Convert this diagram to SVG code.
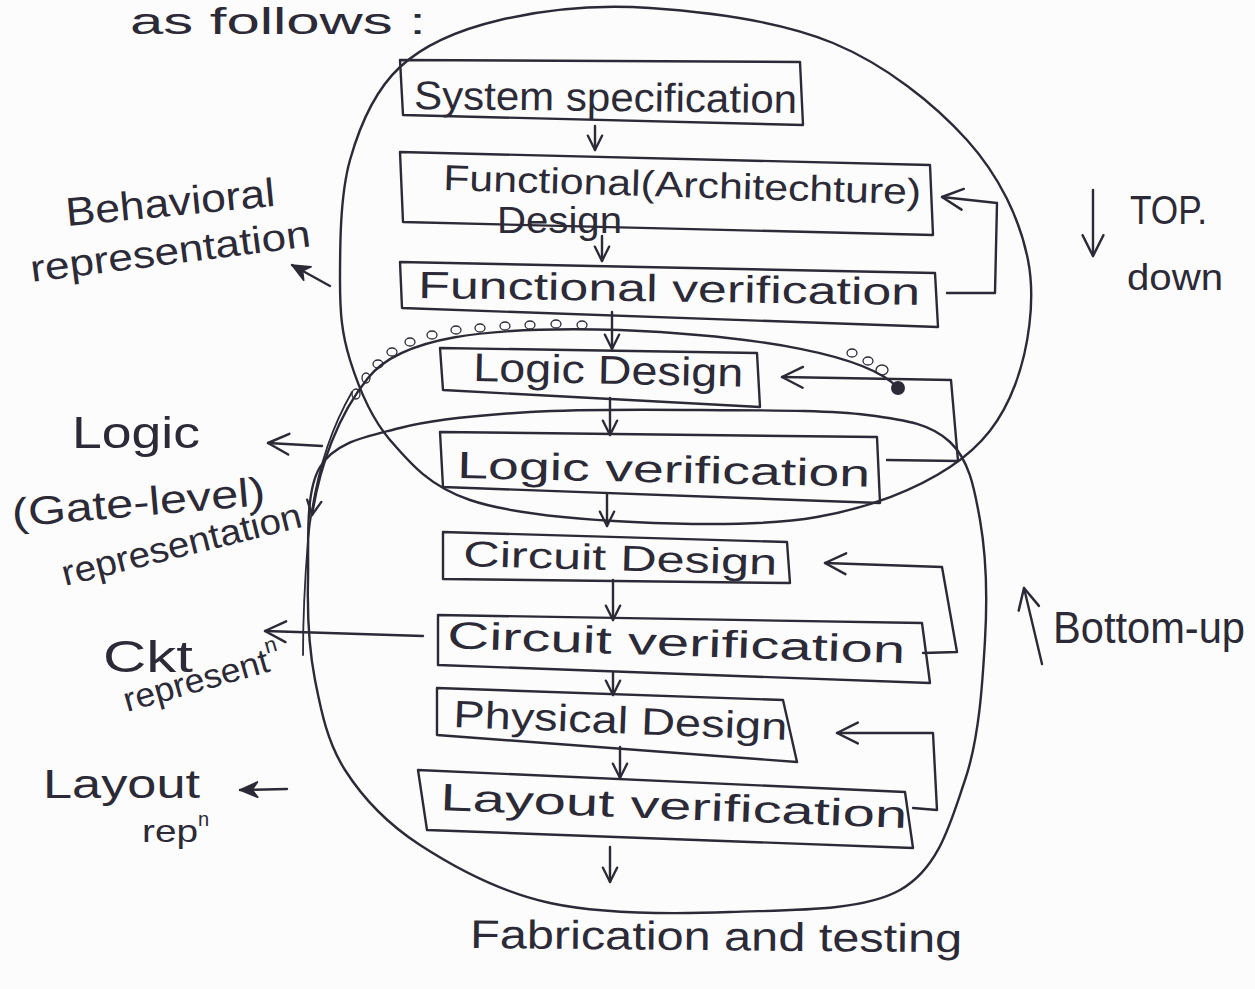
<svg xmlns="http://www.w3.org/2000/svg" width="1255" height="989" viewBox="0 0 1255 989">
<defs>
<style>
.ink{fill:none;stroke:#2b2a36;stroke-width:2.4;stroke-linecap:round;stroke-linejoin:round}
.box{fill:none;stroke:#2b2a36;stroke-width:2.4;stroke-linejoin:round}
.thin{fill:none;stroke:#2b2a36;stroke-width:1.8;stroke-linecap:round}
.t{font-family:"Liberation Sans","DejaVu Sans",sans-serif;fill:#2b2a36}
.loop{fill:none;stroke:#2b2a36;stroke-width:1.3}
</style>
<marker id="ah" viewBox="0 0 20 20" refX="18" refY="10" markerWidth="26" markerHeight="26" markerUnits="userSpaceOnUse" orient="auto"><path d="M2,2 L18,10 L2,18" fill="none" stroke="#2b2a36" stroke-width="1.9" stroke-linecap="round" stroke-linejoin="round"/></marker>
<marker id="ahs" viewBox="0 0 20 20" refX="18" refY="10" markerWidth="18" markerHeight="18" markerUnits="userSpaceOnUse" orient="auto"><path d="M2,2 L18,10 L2,18" fill="none" stroke="#2b2a36" stroke-width="2.6" stroke-linecap="round" stroke-linejoin="round"/></marker>
<marker id="ahf" viewBox="0 0 20 20" refX="18" refY="10" markerWidth="22" markerHeight="22" markerUnits="userSpaceOnUse" orient="auto"><path d="M2,3 L18,10 L2,17 L7,10 Z" fill="#2b2a36" stroke="#2b2a36" stroke-width="1.5" stroke-linejoin="round"/></marker>
</defs>
<rect x="0" y="0" width="1255" height="989" fill="#fcfcfc"/>

<g id="ellipses">
<path class="ink" d="M340,280 C340,246.7 340,195.5 350,160 C360,124.5 375,90.3 400,67 C425,43.7 458.3,29.8 500,20 C541.7,10.2 594.5,4.2 650,8 C705.5,11.8 780.2,21 833,43 C885.8,65 934.5,103.8 967,140 C999.5,176.2 1020,219.2 1028,260 C1036,300.8 1028,350.5 1015,385 C1002,419.5 983,445 950,467 C917,489 869.8,507.8 817,517 C764.2,526.2 690.8,524.8 633,522 C575.2,519.2 510.5,513.7 470,500 C429.5,486.3 410,463.3 390,440 C370,416.7 358.3,386.7 350,360 C341.7,333.3 340,313.3 340,280 Z"/>
<path class="ink" d="M308,580 C308.8,544.5 304.7,492.3 320,467 C335.3,441.7 365,437.2 400,428 C435,418.8 480,415 530,412 C580,409 643.8,409.5 700,410 C756.2,410.5 825.3,409.7 867,415 C908.7,420.3 931.2,424.5 950,442 C968.8,459.5 974.2,487 980,520 C985.8,553 987.5,596.7 985,640 C982.5,683.3 979.2,738.3 965,780 C950.8,821.7 939.2,868 900,890 C860.8,912 788.3,909.8 730,912 C671.7,914.2 601.7,914.2 550,903 C498.3,891.8 454.2,867.2 420,845 C385.8,822.8 362.5,797.5 345,770 C327.5,742.5 321.2,711.7 315,680 C308.8,648.3 307.2,615.5 308,580 Z"/>
</g>

<g id="n1"><polygon class="box" points="400,60 800,62 803,125 403,115"/><text class="t" x="414" y="109" font-size="40" textLength="383" lengthAdjust="spacingAndGlyphs" transform="rotate(0.6 414 109)">System specification</text></g>
<g id="n2"><polygon class="box" points="400,152 930,165 933,235 403,222"/><text class="t" x="443" y="190" font-size="36" textLength="478" lengthAdjust="spacingAndGlyphs" transform="rotate(1.7 443 190)">Functional(Architechture)</text><text class="t" x="497" y="233" font-size="36" textLength="125" lengthAdjust="spacingAndGlyphs">Design</text></g>
<g id="n3"><polygon class="box" points="400,262 935,273 938,327 402,308"/><text class="t" x="418" y="298" font-size="38" textLength="502" lengthAdjust="spacingAndGlyphs" transform="rotate(0.8 418 298)">Functional verification</text></g>
<g id="n4"><polygon class="box" points="440,348 757,353 760,407 443,390"/><text class="t" x="473" y="381" font-size="40" textLength="270" lengthAdjust="spacingAndGlyphs" transform="rotate(1.2 473 381)">Logic Design</text></g>
<g id="n5"><polygon class="box" points="440,432 877,437 880,503 443,487"/><text class="t" x="457" y="478" font-size="38" textLength="413" lengthAdjust="spacingAndGlyphs" transform="rotate(1.2 457 478)">Logic verification</text></g>
<g id="n6"><polygon class="box" points="443,532 787,542 790,583 443,579"/><text class="t" x="463" y="566" font-size="36" textLength="314" lengthAdjust="spacingAndGlyphs" transform="rotate(1.6 463 566)">Circuit Design</text></g>
<g id="n7"><polygon class="box" points="438,615 922,623 930,683 438,665"/><text class="t" x="447" y="648" font-size="38" textLength="458" lengthAdjust="spacingAndGlyphs" transform="rotate(1.9 447 648)">Circuit verification</text></g>
<g id="n8"><polygon class="box" points="437,688 783,700 797,762 437,735"/><text class="t" x="453" y="727" font-size="38" textLength="334" lengthAdjust="spacingAndGlyphs" transform="rotate(2.2 453 727)">Physical Design</text></g>
<g id="n9"><polygon class="box" points="418,770 905,792 913,848 427,830"/><text class="t" x="440" y="810" font-size="38" textLength="467" lengthAdjust="spacingAndGlyphs" transform="rotate(2.2 440 810)">Layout verification</text></g>
<g id="n10"><text class="t" x="470" y="948" font-size="40" textLength="492" lengthAdjust="spacingAndGlyphs" transform="rotate(0.5 470 948)">Fabrication and testing</text></g>

<g id="labels">
<text class="t" x="130" y="34" font-size="36" textLength="296" lengthAdjust="spacingAndGlyphs">as follows :</text>
<text class="t" x="67" y="226" font-size="40" textLength="210" lengthAdjust="spacingAndGlyphs" transform="rotate(-5.5 67 226)">Behavioral</text>
<text class="t" x="32" y="282" font-size="38" textLength="282" lengthAdjust="spacingAndGlyphs" transform="rotate(-7.3 32 282)">representation</text>
<text class="t" x="72" y="448" font-size="44" textLength="128" lengthAdjust="spacingAndGlyphs">Logic</text>
<text class="t" x="13" y="527" font-size="40" textLength="254" lengthAdjust="spacingAndGlyphs" transform="rotate(-5 13 527)">(Gate-level)</text>
<text class="t" x="65" y="586" font-size="36" textLength="246" lengthAdjust="spacingAndGlyphs" transform="rotate(-14 65 586)">representation</text>
<text class="t" x="103" y="672" font-size="44" textLength="90" lengthAdjust="spacingAndGlyphs">Ckt</text>
<text class="t" x="127" y="712" font-size="34" transform="rotate(-15.8 127 712)"><tspan textLength="150" lengthAdjust="spacingAndGlyphs">represent</tspan><tspan font-size="22" dy="-18">n</tspan></text>
<text class="t" x="43" y="798" font-size="40" textLength="157" lengthAdjust="spacingAndGlyphs">Layout</text>
<text class="t" x="142" y="842" font-size="32"><tspan textLength="56" lengthAdjust="spacingAndGlyphs">rep</tspan><tspan font-size="20" dy="-16">n</tspan></text>
<text class="t" x="1130" y="224" font-size="40" textLength="77" lengthAdjust="spacingAndGlyphs">TOP.</text>
<text class="t" x="1127" y="290" font-size="36" textLength="96" lengthAdjust="spacingAndGlyphs">down</text>
<text class="t" x="1053" y="643" font-size="44" textLength="192" lengthAdjust="spacingAndGlyphs">Bottom-up</text>
</g>

<g id="connectors">
<path class="ink" marker-end="url(#ahs)" d="M595,126 L595,150"/>
<path class="ink" marker-end="url(#ahs)" d="M602,236 L602,261"/>
<path class="ink" marker-end="url(#ahs)" d="M612,312 L612,349"/>
<path class="ink" marker-end="url(#ahs)" d="M610,398 L610,435"/>
<path class="ink" marker-end="url(#ahs)" d="M607,494 L607,526"/>
<path class="ink" marker-end="url(#ahs)" d="M613,580 L613,620"/>
<path class="ink" marker-end="url(#ahs)" d="M613,673 L613,695"/>
<path class="ink" marker-end="url(#ahs)" d="M620,747 L620,778"/>
<path class="ink" marker-end="url(#ahs)" d="M610,847 L610,882"/>

<path class="ink" marker-end="url(#ah)" d="M947,293 L995,293 L997,203 L942,197"/>
<path class="ink" marker-end="url(#ah)" d="M887,460 L958,461 L951,380 L782,377"/>
<path class="ink" marker-end="url(#ah)" d="M923,653 L957,652 L942,567 L825,563"/>
<path class="ink" marker-end="url(#ah)" d="M913,808 L937,810 L933,733 L837,733"/>

<path class="ink" stroke-width="3.5" marker-end="url(#ahf)" d="M330,286 L292,265"/>
<path class="ink" marker-end="url(#ah)" d="M322,446 L268,443"/>
<path class="ink" marker-end="url(#ah)" d="M423,636 L265,631"/>
<path class="ink" stroke-width="3" marker-end="url(#ahf)" d="M287,789 L240,790"/>
<path class="ink" marker-end="url(#ah)" d="M1093,190 L1093,256"/>
<path class="ink" marker-end="url(#ah)" d="M1042,664 L1024,588"/>

<path class="ink" marker-end="url(#ahs)" d="M898,388 C868,355 760,336 620,330 C480,326 400,338 368,378 C338,415 320,465 312,515"/>
<path class="thin" d="M352,392 C330,430 314,480 308,540 C304,590 303,630 303,655"/>
<circle cx="898" cy="388" r="7" fill="#2b2a36"/>
<g class="loop">
<ellipse cx="882" cy="370" rx="6" ry="5"/><ellipse cx="868" cy="361" rx="5" ry="4"/><ellipse cx="852" cy="353" rx="5" ry="4"/>
<ellipse cx="582" cy="325" rx="5" ry="4"/><ellipse cx="556" cy="324" rx="5" ry="4"/><ellipse cx="530" cy="325" rx="5" ry="4"/>
<ellipse cx="505" cy="326" rx="5" ry="4"/><ellipse cx="480" cy="328" rx="5" ry="4"/><ellipse cx="456" cy="330" rx="5" ry="4"/>
<ellipse cx="432" cy="335" rx="5" ry="4"/><ellipse cx="410" cy="342" rx="5" ry="4"/><ellipse cx="392" cy="352" rx="5" ry="4"/>
<ellipse cx="378" cy="364" rx="5" ry="4"/><ellipse cx="366" cy="378" rx="4" ry="5"/><ellipse cx="356" cy="394" rx="4" ry="5"/>
</g>
</g>
</svg>
